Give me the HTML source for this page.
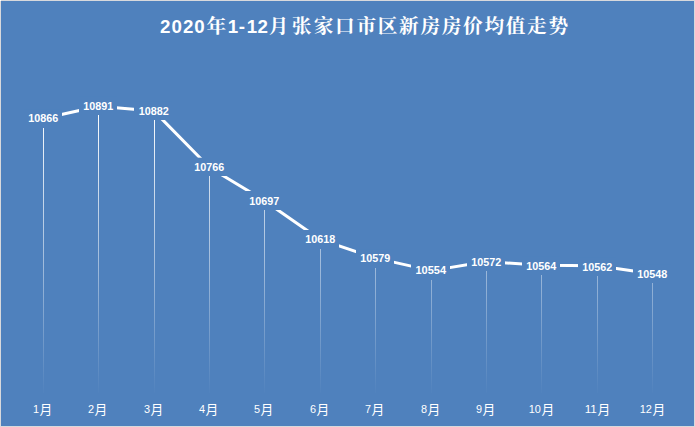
<!DOCTYPE html>
<html lang="zh-CN"><head><meta charset="utf-8"><title>2020年1-12月张家口市区新房房价均值走势</title>
<style>html,body{margin:0;padding:0;background:#D8D9DC;}body{width:695px;height:427px;overflow:hidden;font-family:"Liberation Sans",sans-serif;}svg{display:block;}text{font-family:"Liberation Sans",sans-serif;fill:#fff;}</style></head><body>
<svg width="695" height="427" viewBox="0 0 695 427" role="img" aria-label="2020年1-12月张家口市区新房房价均值走势">
<title>2020年1-12月张家口市区新房房价均值走势</title>
<defs><linearGradient id="dl" gradientUnits="userSpaceOnUse" x1="0" y1="108" x2="0" y2="396"><stop offset="0" stop-color="#fff" stop-opacity="1"/><stop offset="1" stop-color="#fff" stop-opacity="0"/></linearGradient></defs>
<rect x="0" y="0" width="695" height="427" fill="#D8D9DC"/>
<rect x="0" y="0" width="1" height="1" fill="#fff"/>
<rect x="1" y="1" width="693" height="425" fill="#4F81BD"/>
<g fill="url(#dl)"><rect x="43" y="128" width="1" height="265"/><rect x="98" y="115" width="1" height="278"/><rect x="154" y="120" width="1" height="273"/><rect x="209" y="176" width="1" height="217"/><rect x="264" y="210" width="1" height="183"/><rect x="320" y="249" width="1" height="144"/><rect x="375" y="268" width="1" height="125"/><rect x="431" y="280" width="1" height="113"/><rect x="486" y="271" width="1" height="122"/><rect x="541" y="275" width="1" height="118"/><rect x="597" y="276" width="1" height="117"/><rect x="652" y="283" width="1" height="110"/></g>
<path d="M43.50 118.47L98.50 106.30L154.10 111.08L209.50 167.44L264.50 200.72L320.50 239.67L375.50 258.15L431.50 270.62L486.50 261.56L541.50 265.35L597.50 265.82L652.50 273.84" fill="none" stroke="#fff" stroke-width="3" stroke-linecap="round" stroke-linejoin="round"/>
<g fill="#4F81BD"><rect x="24" y="109.5" width="38" height="18.5"/><rect x="79" y="96.5" width="38" height="18.5"/><rect x="134" y="101.5" width="38" height="18.5"/><rect x="190" y="157.7" width="38" height="18.3"/><rect x="245" y="191.0" width="38" height="19.0"/><rect x="301" y="230.0" width="38" height="19.0"/><rect x="356" y="249.5" width="38" height="18.5"/><rect x="411" y="261.5" width="39" height="18.5"/><rect x="467" y="252.5" width="38" height="18.5"/><rect x="522" y="256.5" width="38" height="18.5"/><rect x="578" y="257.5" width="38" height="18.5"/><rect x="633" y="264.5" width="38" height="18.5"/></g>
<g font-size="11.20" font-weight="bold" text-anchor="middle"><text x="43.30" y="122" textLength="30.0" lengthAdjust="spacingAndGlyphs">10866</text><text x="98.30" y="110" textLength="30.0" lengthAdjust="spacingAndGlyphs">10891</text><text x="153.70" y="115" textLength="30.0" lengthAdjust="spacingAndGlyphs">10882</text><text x="209.30" y="171" textLength="30.0" lengthAdjust="spacingAndGlyphs">10766</text><text x="264.30" y="205" textLength="30.0" lengthAdjust="spacingAndGlyphs">10697</text><text x="320.30" y="243" textLength="30.0" lengthAdjust="spacingAndGlyphs">10618</text><text x="375.30" y="262" textLength="30.0" lengthAdjust="spacingAndGlyphs">10579</text><text x="430.80" y="274" textLength="30.6" lengthAdjust="spacingAndGlyphs">10554</text><text x="486.30" y="266" textLength="30.0" lengthAdjust="spacingAndGlyphs">10572</text><text x="541.30" y="270" textLength="30.0" lengthAdjust="spacingAndGlyphs">10564</text><text x="597.30" y="271" textLength="30.0" lengthAdjust="spacingAndGlyphs">10562</text><text x="652.30" y="278" textLength="30.0" lengthAdjust="spacingAndGlyphs">10548</text></g>
<g font-size="11.20" fill="#fff"><g aria-label="1月"><text x="33.10" y="412.80" textLength="6.08" lengthAdjust="spacingAndGlyphs">1</text><text x="39.53" y="413.86" font-size="12.8" style="font-family:'Liberation Sans','Noto Sans CJK SC',sans-serif">月</text></g><g aria-label="2月"><text x="88.10" y="412.80" textLength="6.08" lengthAdjust="spacingAndGlyphs">2</text><text x="94.53" y="413.86" font-size="12.8" style="font-family:'Liberation Sans','Noto Sans CJK SC',sans-serif">月</text></g><g aria-label="3月"><text x="144.10" y="412.80" textLength="6.08" lengthAdjust="spacingAndGlyphs">3</text><text x="150.53" y="413.86" font-size="12.8" style="font-family:'Liberation Sans','Noto Sans CJK SC',sans-serif">月</text></g><g aria-label="4月"><text x="199.10" y="412.80" textLength="6.08" lengthAdjust="spacingAndGlyphs">4</text><text x="205.53" y="413.86" font-size="12.8" style="font-family:'Liberation Sans','Noto Sans CJK SC',sans-serif">月</text></g><g aria-label="5月"><text x="254.10" y="412.80" textLength="6.08" lengthAdjust="spacingAndGlyphs">5</text><text x="260.53" y="413.86" font-size="12.8" style="font-family:'Liberation Sans','Noto Sans CJK SC',sans-serif">月</text></g><g aria-label="6月"><text x="310.10" y="412.80" textLength="6.08" lengthAdjust="spacingAndGlyphs">6</text><text x="316.53" y="413.86" font-size="12.8" style="font-family:'Liberation Sans','Noto Sans CJK SC',sans-serif">月</text></g><g aria-label="7月"><text x="365.10" y="412.80" textLength="6.08" lengthAdjust="spacingAndGlyphs">7</text><text x="371.53" y="413.86" font-size="12.8" style="font-family:'Liberation Sans','Noto Sans CJK SC',sans-serif">月</text></g><g aria-label="8月"><text x="421.10" y="412.80" textLength="6.08" lengthAdjust="spacingAndGlyphs">8</text><text x="427.53" y="413.86" font-size="12.8" style="font-family:'Liberation Sans','Noto Sans CJK SC',sans-serif">月</text></g><g aria-label="9月"><text x="476.10" y="412.80" textLength="6.08" lengthAdjust="spacingAndGlyphs">9</text><text x="482.53" y="413.86" font-size="12.8" style="font-family:'Liberation Sans','Noto Sans CJK SC',sans-serif">月</text></g><g aria-label="10月"><text x="528.70" y="412.80" textLength="12.16" lengthAdjust="spacingAndGlyphs">10</text><text x="541.43" y="413.86" font-size="12.8" style="font-family:'Liberation Sans','Noto Sans CJK SC',sans-serif">月</text></g><g aria-label="11月"><text x="584.70" y="412.80" textLength="12.16" lengthAdjust="spacingAndGlyphs">11</text><text x="597.43" y="413.86" font-size="12.8" style="font-family:'Liberation Sans','Noto Sans CJK SC',sans-serif">月</text></g><g aria-label="12月"><text x="639.70" y="412.80" textLength="12.16" lengthAdjust="spacingAndGlyphs">12</text><text x="652.43" y="413.86" font-size="12.8" style="font-family:'Liberation Sans','Noto Sans CJK SC',sans-serif">月</text></g></g>
<g aria-label="2020年1-12月张家口市区新房房价均值走势"><g font-size="18.73" font-weight="bold"><text x="159.96 171.43 182.89 194.36" y="33.00">2020</text><text x="227.85 238.70 246.77 257.54" y="33.00">1-12</text></g><g fill="#fff" font-size="19.7" font-weight="bold" style="font-family:'Liberation Sans','Noto Serif CJK SC',serif"><text x="206.61" y="33.30" style="font-family:'Liberation Sans','Noto Serif CJK SC',serif">年</text><text x="268.70" y="33.30" style="font-family:'Liberation Sans','Noto Serif CJK SC',serif">月</text><text x="291.83 313.76 335.09 356.42 377.75 399.08 420.41 441.74 463.07 484.40 505.73 527.06 548.39" y="33.30" style="font-family:'Liberation Sans','Noto Serif CJK SC',serif">张家口市区新房房价均值走势</text></g></g>
</svg>
</body></html>
